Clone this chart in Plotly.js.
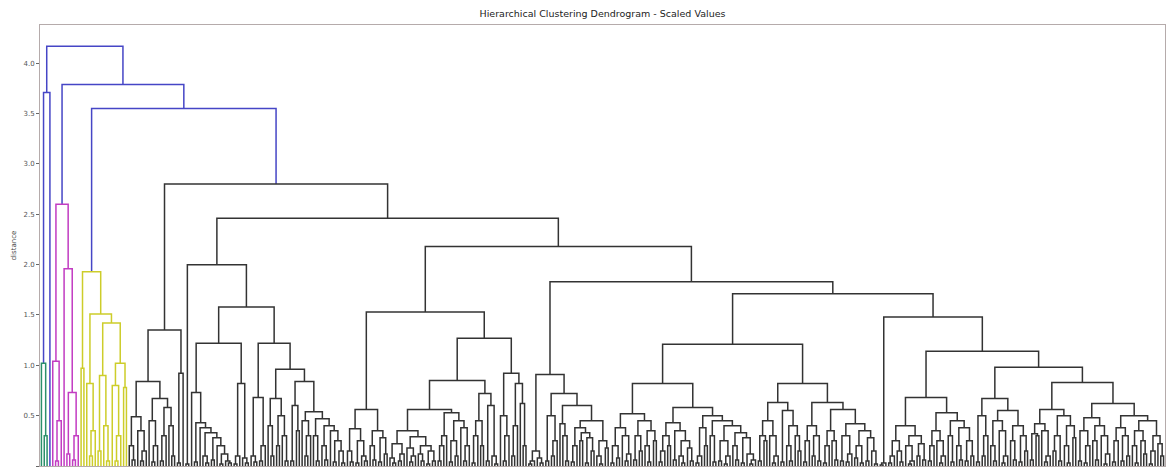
<!DOCTYPE html>
<html>
<head>
<meta charset="utf-8">
<script src="https://cdn.plot.ly/plotly-3.0.1.min.js"></script>
<style>html,body{margin:0;padding:0;background:#fff;}#chart{width:1167px;height:470px;}</style>
</head>
<body>
<div id="chart"></div>
<script>
// ---- Data: dendrogram subtrees, "(childA,childB)height", x = one observation ----
const leftOutliers = "((x,(x,x)0.3)1.02,x)3.71";
const pinkCluster = "((x,((x,x)0.05,x)0.45)1.04,(x,((x,x)0.12,((x,x)0.06,x)0.3)0.73)1.96)2.6";
const yellowCluster = "((x,x)0.97,((x,((x,x)0.1,x)0.35)0.82,(((x,x)0.15,(x,(x,x)0.05)0.4)0.9,((x,((x,x)0.05,x)0.3)0.8,(x,x)0.78)1.02)1.42)1.51)1.93";

const a049 = "((x,(x,x)0.06)0.2,(x,((x,x)0.05,x)0.15)0.35)0.49";
const r067 = "((x,((x,x)0.04,x)0.2)0.45,(((x,x)0.05,x)0.3,(x,(x,x)0.1)0.4)0.58)0.67";
const k0Left = "((" + a049 + "," + r067 + ")0.84,((x,x)0.03,x)0.92)1.35";

const stair1 = "((x,x)0.04,(x,((x,(x,x)0.03)0.1,((x,x)0.06,(x,((x,x)0.02,(x,(x,x)0.03)0.05)0.12)0.2)0.28)0.33)0.38)0.43";
const n073 = "(x," + stair1 + ")0.73";
const n082 = "(((x,x)0.02,x)0.1,(x,(x,x)0.03)0.08)0.82";
const n068 = "((x,(x,x)0.04)0.1,((x,x)0.05,x)0.2)0.68";
const n067 = "((x,(x,x)0.1)0.4,((x,x)0.2,(x,(x,x)0.05)0.3)0.5)0.67";
const stair2 = "((x,(x,x)0.05)0.3,((x,(x,x)0.06)0.2,(x,((x,x)0.04,(x,(x,x)0.03)0.15)0.25)0.35)0.4)0.47";
const n084 = "(((x,x)0.05,(x,x)0.35)0.6,((x,((x,x)0.1,x)0.3)0.45," + stair2 + ")0.54)0.84";
const k1Left = "((x,x)0.02,((" + n073 + "," + n082 + ")1.22,(" + n068 + ",(" + n067 + "," + n084 + ")0.96)1.22)1.58)2.0";

const n037 = "((x,(x,x)0.04)0.15,((x,x)0.03,(x,(x,x)0.05)0.1)0.25)0.37";
const n035 = "((x,(x,x)0.06)0.2,((x,x)0.04,(x,x)0.12)0.28)0.35";
const sA = "((x,(x,x)0.03)0.08,((x,x)0.05,x)0.12)0.22";
const sB = "((x,((x,x)0.04,x)0.1)0.18,((x,(x,x)0.05)0.12,((x,x)0.02,(x,x)0.05)0.15)0.2)0.29";
const sC = "((((x,x)0.05,x)0.2,x)0.3,(((x,x)0.04,(x,x)0.1)0.25,(x,((x,x)0.05,x)0.2)0.38)0.45)0.53";
const n072 = "((((x,x)0.03,x)0.3,(x,x)0.2)0.45,((x,x)0.05,(x,(x,x)0.02)0.1)0.6)0.72";
const n092 = "((x,((x,x)0.05,x)0.3)0.5,(((x,x)0.1,x)0.4,(x,(x,x)0.2)0.62)0.82)0.92";
const n153 = "((" + n037 + "," + n035 + ")0.56,((((" + sA + "," + sB + ")0.35," + sC + ")0.56," + n072 + ")0.85," + n092 + ")1.27)1.53";

const g015 = "(((x,x)0.02,x)0.05,(x,(x,x)0.03)0.08)0.15";
const g050 = "((x,x)0.05,((x,x)0.1,x)0.25)0.5";
const g042 = "(x,(x,(x,x)0.05)0.3)0.42";
const g038 = "(((x,x)0.04,x)0.2,((x,x)0.25,((x,x)0.03,(x,x)0.15)0.28)0.33)0.38";
const g025 = "((x,(x,x)0.02)0.1,(x,x)0.18)0.25";
const n091 = "(" + g015 + ",(" + g050 + ",(" + g042 + ",(" + g038 + "," + g025 + ")0.45)0.6)0.72)0.91";

const n052 = "((((x,x)0.03,(x,x)0.08)0.2,(x,((x,x)0.05,x)0.12)0.3)0.38,(((x,x)0.06,(x,x)0.15)0.3,((x,(x,x)0.04)0.2,(x,x)0.25)0.35)0.45)0.52";
const l043 = "((((x,x)0.04,x)0.15,(x,x)0.2)0.3,((x,x)0.06,((x,(x,x)0.03)0.1,(x,(x,x)0.05)0.18)0.25)0.35)0.43";
const r050 = "((((x,x)0.03,x)0.1,(x,x)0.2)0.38,((x,(x,x)0.04)0.3,(((x,x)0.05,((x,x)0.02,x)0.1)0.25,((x,(x,x)0.06)0.2,((x,x)0.03,(x,((x,x)0.02,x)0.06)0.12)0.28)0.33)0.4)0.45)0.5";
const l063 = "((((x,x)0.05,(x,x)0.25)0.3,(x,((x,x)0.03,x)0.1)0.3)0.45,((x,x)0.04,((x,(x,x)0.05)0.2,(x,(x,x)0.15)0.3)0.4)0.55)0.63";
const r063 = "((((x,x)0.04,x)0.25,((x,x)0.1,(x,x)0.05)0.3)0.4,((((x,x)0.03,x)0.2,(x,(x,x)0.06)0.25)0.35,(((x,x)0.05,((x,x)0.04,x)0.12)0.3,(((x,x)0.08,(x,x)0.03)0.2,((x,x)0.05,(x,(x,x)0.02)0.15)0.28)0.35)0.42)0.56)0.63";
const n121 = "((" + n052 + ",(" + l043 + "," + r050 + ")0.58)0.82,(" + l063 + "," + r063 + ")0.82)1.21";

const n040 = "((((x,x)0.03,x)0.1,(x,(x,x)0.04)0.15)0.25,((x,((x,x)0.02,x)0.05)0.2,((x,x)0.1,(x,x)0.06)0.22)0.3)0.4";
const n053 = "((((x,x)0.05,x)0.2,(x,((x,x)0.03,x)0.1)0.25)0.35,((x,(x,x)0.04)0.3,((x,(x,x)0.06)0.2,((x,x)0.05,(x,x)0.1)0.25)0.38)0.45)0.53";
const n067b = "(((x,x)0.04,((x,x)0.1,x)0.3)0.5,(((x,(x,x)0.05)0.2,(x,((x,x)0.03,x)0.1)0.35)0.45,((x,(x,x)0.06)0.25,((x,x)0.04,(x,x)0.15)0.3)0.4)0.55)0.67";
const n056c = "((((x,x)0.06,(x,x)0.3)0.32,(x,((x,x)0.04,x)0.1)0.35)0.42,(((x,x)0.15,(x,x)0.05)0.3,((x,(x,x)0.03)0.2,(x,x)0.28)0.4)0.5)0.56";
const n062 = "((((x,x)0.05,((x,x)0.03,x)0.2)0.35,((x,(x,x)0.06)0.25,(x,((x,x)0.02,x)0.12)0.3)0.4)0.48,((((x,x)0.04,x)0.25,((x,x)0.05,(x,x)0.1)0.3)0.38,(((x,(x,x)0.03)0.2,(x,(x,x)0.12)0.25)0.35,(((x,x)0.02,x)0.15,(x,(x,x)0.1)0.22)0.3)0.45)0.5)0.62";
const n148 = "(((x,x)0.01,x)0.03,((" + n040 + "," + n053 + ")0.68,(" + n067b + ",(" + n056c + "," + n062 + ")0.83)0.98)1.14)1.48";

// upper merge heights
const topHeights = {n171: 1.71, n183: 1.83, n218: 2.18, n246: 2.46, k0: 2.80, n355: 3.55, n379: 3.79, root: 4.17};
const colorThreshold = 2.92;
const clusterColors = ["#2a8f6a", "#c23cc2", "#cdcd2a", "#333333"];
const aboveColor = "#4646c6";

const n183 = "(" + n091 + ",(" + n121 + "," + n148 + ")" + topHeights.n171 + ")" + topHeights.n183;
const n218 = "(" + n153 + "," + n183 + ")" + topHeights.n218;
const n246 = "(" + k1Left + "," + n218 + ")" + topHeights.n246;
const k0 = "(" + k0Left + "," + n246 + ")" + topHeights.k0;
const n355 = "(" + yellowCluster + "," + k0 + ")" + topHeights.n355;
const n379 = "(" + pinkCluster + "," + n355 + ")" + topHeights.n379;
const treeString = "(" + leftOutliers + "," + n379 + ")" + topHeights.root;

// ---- parse ----
function parseTree(s) {
  let pos = 0;
  function node() {
    if (s[pos] === 'x') { pos++; return {leaf: true, h: 0}; }
    if (s[pos] !== '(') throw new Error('bad char at ' + pos + ': ' + s[pos]);
    pos++;
    const ch = [node()];
    while (s[pos] === ',') { pos++; ch.push(node()); }
    if (s[pos] !== ')') throw new Error('expected ) at ' + pos + ' got ' + s[pos]);
    pos++;
    let start = pos;
    while (pos < s.length && /[0-9.]/.test(s[pos])) pos++;
    return {leaf: false, h: parseFloat(s.slice(start, pos)), ch: ch};
  }
  const t = node();
  if (pos !== s.length) throw new Error('trailing text at ' + pos);
  return t;
}
const tree = parseTree(treeString);

// ---- layout ----
let leafCount = 0;
function place(n) {
  if (n.leaf) { n.x = leafCount + 0.5; leafCount++; return; }
  n.ch.forEach(place);
  n.x = (n.ch[0].x + n.ch[n.ch.length - 1].x) / 2;
}
place(tree);

let clusterIdx = 0;
const segs = {};
function colorize(n, inherited) {
  if (n.leaf) return;
  let col = inherited;
  if (!col && n.h < colorThreshold) { col = clusterColors[clusterIdx % clusterColors.length]; clusterIdx++; }
  const drawCol = col || aboveColor;
  if (!segs[drawCol]) segs[drawCol] = {x: [], y: []};
  const S = segs[drawCol];
  const a = n.ch[0], b = n.ch[n.ch.length - 1];
  S.x.push(a.x, a.x, b.x, b.x, null);
  S.y.push(a.h, n.h, n.h, b.h, null);
  n.ch.forEach(c => colorize(c, col));
}
colorize(tree, null);

const traces = Object.keys(segs).map(c => ({
  type: 'scatter', mode: 'lines', x: segs[c].x, y: segs[c].y,
  line: {color: c, width: 1.5}, hoverinfo: 'skip', showlegend: false, connectgaps: false
}));

const layout = {
  width: 1167, height: 470,
  margin: {l: 40, r: 2, t: 25, b: 4},
  paper_bgcolor: '#ffffff', plot_bgcolor: '#ffffff',
  title: {text: 'Hierarchical Clustering Dendrogram - Scaled Values', font: {family: 'DejaVu Sans', size: 9.5, color: '#222'},
          x: 0.5, xref: 'paper', xanchor: 'center', y: 0.97, yref: 'container', yanchor: 'middle'},
  xaxis: {range: [0, leafCount], showticklabels: false, ticks: '', showgrid: false, zeroline: false,
          showline: true, mirror: true, linecolor: '#b5abab', linewidth: 1},
  yaxis: {range: [0, 4.38], tick0: 0, dtick: 0.5, tickformat: '.1f', ticks: 'outside', ticklen: 3, tickcolor: '#666',
          tickfont: {family: 'DejaVu Sans', size: 7, color: '#555'}, showgrid: false, zeroline: false,
          showline: true, mirror: true, linecolor: '#b5abab', linewidth: 1,
          title: {text: 'distance', font: {family: 'DejaVu Sans', size: 7, color: '#444'}, standoff: 6}},
  showlegend: false
};
Plotly.newPlot('chart', traces, layout, {displayModeBar: false, staticPlot: true});
</script>
</body>
</html>
